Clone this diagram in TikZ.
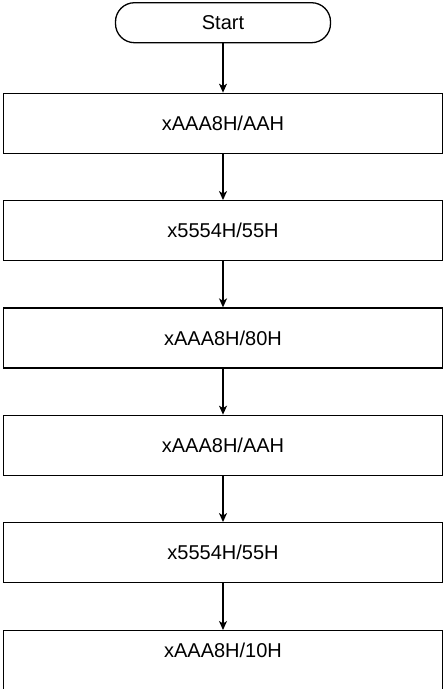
\documentclass[tikz,border=0pt]{standalone}
\usepackage{fontspec}
\setmainfont{Liberation Sans}
\usetikzlibrary{arrows.meta}
\begin{document}
\begin{tikzpicture}[x=1pt,y=-1pt,
  every node/.style={font=\fontsize{20}{24}\selectfont},
  procbox/.style={draw, line width=1.3pt, minimum width=438.5pt, minimum height=60pt, inner sep=0pt},
  termbox/.style={draw, line width=1.3pt, rounded corners=19pt, minimum width=215pt, minimum height=40pt, inner sep=0pt},
  flow/.style={line width=1.3pt, -{Stealth[length=9pt, width=8pt, inset=2.5pt]}}]
\useasboundingbox (0,0) rectangle (445,689);
\clip (0,0) rectangle (445,689);
\node[termbox] (start) at (223,22.7) {Start};
\node[procbox] (b1) at (223,123.3) {xAAA8H/AAH};
\node[procbox] (b2) at (223,230.7) {x5554H/55H};
\node[procbox] (b3) at (223,338) {xAAA8H/80H};
\node[procbox] (b4) at (223,445.3) {xAAA8H/AAH};
\node[procbox] (b5) at (223,552.7) {x5554H/55H};
\node[procbox, anchor=north, minimum height=0pt, inner ysep=0pt, text height=27pt, text depth=53pt] (b6) at (223,630) {xAAA8H/10H};
\draw[flow] (start) -- (b1);
\draw[flow] (b1) -- (b2);
\draw[flow] (b2) -- (b3);
\draw[flow] (b3) -- (b4);
\draw[flow] (b4) -- (b5);
\draw[flow] (b5) -- (b6);
\end{tikzpicture}
\end{document}
